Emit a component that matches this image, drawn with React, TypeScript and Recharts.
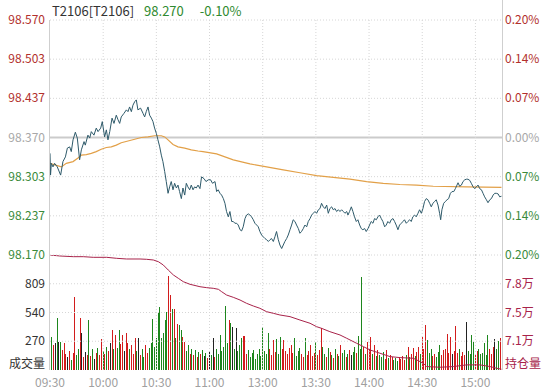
import React from 'react';
import {
  LineChart,
  Line,
  XAxis,
  YAxis,
  ReferenceLine,
  ComposedChart,
  Bar,
  Cell,
} from 'recharts';

const FONT = '"Noto Sans CJK SC", "Noto Sans", sans-serif';

// ---------- data ----------
const instrument = 'T2106[T2106]';
const lastPrice = '98.270';
const lastChange = '-0.10%';
const prevClose = 98.37;

const timeTicks = [0, 30, 60, 90, 120, 150, 180, 210, 240];
const timeLabels = ['09:30', '10:00', '10:30', '11:00', '13:00', '13:30', '14:00', '14:30', '15:00'];

const priceTicks = [98.17, 98.236667, 98.303333, 98.37, 98.436667, 98.503333, 98.57];
const volumeTicks = [269.75, 539.5, 809.25];
const oiTicks = [71000, 74600, 78200];

// [minute offset from 09:30 (trading minutes), price]
const priceTrack: [number, number][] = [
  [0, 98.343], [0.3, 98.306], [0.75, 98.326], [1.7, 98.32], [2.6, 98.326], [4.1, 98.32], [6.0, 98.306],
  [7.3, 98.329], [8.7, 98.337], [9.8, 98.352], [11.1, 98.354], [12.0, 98.346], [13.0, 98.366], [14.3, 98.379],
  [15.4, 98.369], [16.7, 98.332], [17.7, 98.349], [19.2, 98.363], [19.9, 98.357], [21.4, 98.374], [22.4, 98.369],
  [23.3, 98.38], [24.8, 98.374], [26.1, 98.386], [27.1, 98.38], [28.6, 98.386], [29.5, 98.397], [30.8, 98.371],
  [31.8, 98.383], [32.7, 98.366], [33.7, 98.38], [35.0, 98.403], [36.1, 98.394], [37.4, 98.408], [38.4, 98.4],
  [39.3, 98.394], [40.2, 98.405], [41.7, 98.411], [43.1, 98.417], [44.0, 98.414], [44.9, 98.422], [45.9, 98.414],
  [46.8, 98.425], [47.8, 98.431], [48.7, 98.434], [49.6, 98.417], [51.1, 98.42], [52.5, 98.411], [53.4, 98.405],
  [54.3, 98.414], [55.3, 98.422], [56.2, 98.408], [57.2, 98.403], [58.1, 98.397], [59.0, 98.386], [60.0, 98.377],
  [60.9, 98.366], [61.9, 98.354], [62.8, 98.34], [63.7, 98.329], [64.7, 98.312], [65.6, 98.295], [66.6, 98.275],
  [67.5, 98.286], [68.4, 98.295], [69.4, 98.281], [70.3, 98.292], [71.3, 98.284], [72.2, 98.289], [73.1, 98.278],
  [74.1, 98.266], [75.0, 98.284], [76.0, 98.272], [76.9, 98.292], [77.8, 98.286], [78.8, 98.281], [79.7, 98.289],
  [80.7, 98.281], [81.6, 98.286], [82.5, 98.284], [83.5, 98.289], [84.6, 98.283], [85.5, 98.303], [86.9, 98.3],
  [88.0, 98.295], [89.3, 98.298], [90.6, 98.298], [91.7, 98.292], [93.1, 98.295], [94.0, 98.278], [94.9, 98.281],
  [95.9, 98.275], [96.8, 98.272], [97.8, 98.266], [98.7, 98.258], [99.6, 98.244], [100.6, 98.235], [101.5, 98.244],
  [102.5, 98.227], [103.4, 98.227], [104.3, 98.224], [105.3, 98.224], [106.2, 98.221], [107.2, 98.213], [108.1, 98.211],
  [109.0, 98.218], [110.0, 98.232], [110.9, 98.238], [111.9, 98.24], [112.8, 98.238], [113.7, 98.235], [114.7, 98.23],
  [115.6, 98.224], [116.6, 98.221], [117.5, 98.218], [118.4, 98.21], [119.4, 98.204], [120.3, 98.201], [121.3, 98.198],
  [122.2, 98.196], [123.2, 98.193], [124.1, 98.196], [125.0, 98.198], [126.0, 98.193], [126.9, 98.201], [127.8, 98.21],
  [128.8, 98.196], [129.7, 98.187], [130.7, 98.181], [131.6, 98.187], [132.5, 98.193], [133.5, 98.198], [134.4, 98.204],
  [135.4, 98.213], [136.3, 98.221], [137.2, 98.23], [138.2, 98.227], [139.1, 98.221], [140.1, 98.215], [141.0, 98.207],
  [141.9, 98.21], [142.9, 98.215], [143.8, 98.221], [144.8, 98.218], [145.7, 98.227], [146.7, 98.232], [147.6, 98.238],
  [148.5, 98.241], [149.5, 98.244], [150.4, 98.241], [151.4, 98.247], [152.3, 98.249], [153.2, 98.258], [154.2, 98.252],
  [155.1, 98.249], [156.1, 98.255], [157.0, 98.241], [157.9, 98.249], [158.9, 98.252], [159.8, 98.247], [160.8, 98.249],
  [161.7, 98.244], [162.7, 98.247], [163.6, 98.244], [164.5, 98.247], [165.5, 98.244], [166.4, 98.241], [167.4, 98.244],
  [168.1, 98.238], [169.0, 98.244], [170.0, 98.252], [170.9, 98.244], [171.8, 98.235], [172.8, 98.227], [173.7, 98.23],
  [174.7, 98.221], [175.6, 98.215], [176.5, 98.213], [177.5, 98.215], [178.4, 98.21], [179.4, 98.215], [180.3, 98.221],
  [181.2, 98.227], [182.2, 98.224], [183.1, 98.232], [184.1, 98.23], [185.0, 98.235], [185.9, 98.238], [186.9, 98.232],
  [187.8, 98.227], [188.8, 98.218], [189.7, 98.221], [190.6, 98.227], [191.6, 98.224], [192.5, 98.23], [193.5, 98.232],
  [194.4, 98.227], [195.3, 98.221], [196.3, 98.213], [197.2, 98.221], [198.2, 98.224], [199.1, 98.227], [200.0, 98.23],
  [201.0, 98.224], [201.9, 98.227], [202.9, 98.23], [203.8, 98.227], [204.7, 98.235], [205.7, 98.238], [206.6, 98.235],
  [207.6, 98.241], [208.5, 98.247], [209.5, 98.241], [210.4, 98.249], [211.3, 98.261], [212.3, 98.266], [213.2, 98.264],
  [214.2, 98.258], [215.1, 98.252], [216.0, 98.258], [217.0, 98.261], [217.9, 98.264], [218.9, 98.255], [219.8, 98.241],
  [220.4, 98.23], [221.1, 98.247], [222.1, 98.258], [223.0, 98.261], [224.0, 98.264], [224.9, 98.266], [225.9, 98.275],
  [226.8, 98.278], [227.8, 98.278], [228.7, 98.283], [229.6, 98.289], [230.2, 98.293], [231.1, 98.287], [232.1, 98.289],
  [233.0, 98.295], [234.0, 98.298], [234.9, 98.299], [235.8, 98.299], [236.8, 98.297], [237.7, 98.292], [238.7, 98.286],
  [239.6, 98.283], [240.5, 98.286], [241.5, 98.289], [242.4, 98.283], [243.4, 98.281], [244.3, 98.275], [245.2, 98.269],
  [246.2, 98.264], [247.1, 98.259], [248.1, 98.264], [249.0, 98.266], [250.0, 98.272], [250.9, 98.275], [251.8, 98.275],
  [252.8, 98.274], [253.7, 98.269], [254.7, 98.27],
];

const avgTrack: [number, number][] = [
  [0, 98.326], [6.4, 98.32], [9.2, 98.326], [13, 98.329], [15.8, 98.335], [17.7, 98.34], [20.5, 98.341],
  [23.3, 98.343], [26.1, 98.346], [28.9, 98.35], [31.8, 98.353], [34.6, 98.354], [37.4, 98.357], [40.2, 98.361],
  [44, 98.364], [47.8, 98.367], [51.5, 98.37], [55.3, 98.371], [59, 98.373], [62.8, 98.373], [64.7, 98.371],
  [66.6, 98.366], [69.4, 98.358], [72.2, 98.354], [76, 98.352], [79.7, 98.349], [83.5, 98.347], [86.3, 98.346],
  [94, 98.342], [103.4, 98.332], [112.8, 98.325], [122.2, 98.32], [131.6, 98.315], [141, 98.31], [150.4, 98.305],
  [159.8, 98.302], [169.2, 98.299], [178.6, 98.295], [188, 98.292], [197.4, 98.29], [206.8, 98.289], [216.2, 98.287],
  [235, 98.286], [254.7, 98.285],
];

// open interest (contracts)
const oiTrack: [number, number][] = [
  [0, 81800], [5.6, 81675], [13.2, 81590], [18.8, 81590], [24.4, 81510], [32, 81510], [37.6, 81385], [43.2, 81300],
  [50.8, 81300], [54.5, 81260], [58.3, 81175], [61.1, 80965], [63.9, 80550], [66.7, 79920], [69.6, 79300],
  [72.4, 78880], [75.2, 78460], [79, 78130], [84.6, 77830], [88.4, 77710], [92.1, 77630], [95, 77505], [96.8, 77210],
  [99.6, 76790], [103.4, 76500], [107.2, 76165], [110.9, 75750], [114.7, 75415], [118.4, 75130], [122.2, 74700],
  [126, 74500], [129.7, 74290], [135.4, 74080], [141, 73660], [146.7, 73250], [150.4, 72825], [153.2, 72620],
  [157.9, 72200], [163.6, 71785], [167.4, 71370], [173, 70745], [176.8, 70330], [180.5, 69910], [186.2, 69495],
  [191.8, 69080], [197.5, 68950], [205, 68870], [210.6, 68240], [212.5, 67830], [220, 67745], [227.5, 67830],
  [235, 68040], [242.6, 68040], [248.2, 67830], [252, 67620], [254.7, 67500],
];

// volume per minute
const volumes: number[] = [
  1075, 312, 235, 253, 485, 266, 266, 188, 256, 150, 120, 180, 95, 160, 688, 140, 200, 485, 347, 120,
  170, 140, 469, 130, 200, 100, 160, 210, 140, 291, 180, 150, 220, 180, 250, 375, 200, 328, 210, 375,
  240, 328, 180, 347, 250, 200, 230, 150, 297, 180, 297, 140, 200, 120, 230, 160, 210, 250, 478, 220,
  300, 547, 594, 300, 350, 469, 547, 882, 704, 569, 569, 300, 432, 422, 375, 307, 266, 180, 230, 150,
  200, 140, 188, 120, 170, 150, 188, 130, 160, 110, 180, 140, 297, 120, 200, 150, 328, 180, 220, 600,
  250, 469, 445, 407, 200, 391, 180, 230, 297, 319, 319, 150, 188, 120, 160, 188, 100, 150, 200, 130,
  401, 180, 150, 347, 200, 140, 280, 170, 290, 150, 307, 200, 285, 180, 150, 203, 235, 160, 297, 130,
  180, 203, 150, 120, 297, 140, 180, 235, 130, 160, 260, 140, 190, 391, 219, 150, 120, 203, 170, 140,
  110, 194, 150, 130, 235, 160, 188, 120, 150, 188, 140, 170, 219, 160, 319, 200, 876, 220, 150, 266,
  200, 313, 150, 235, 130, 188, 140, 120, 172, 100, 188, 110, 140, 125, 90, 110, 80, 120, 100, 130,
  90, 140, 219, 120, 150, 203, 130, 170, 219, 150, 307, 200, 422, 282, 160, 194, 130, 150, 120, 170,
  235, 140, 190, 200, 338, 160, 307, 150, 180, 413, 160, 194, 130, 170, 140, 450, 180, 150, 328, 266,
  140, 180, 194, 150, 160, 256, 140, 328, 194, 150, 219, 288, 200, 275, 300,
];

// ---------- derived tables ----------
const priceData = priceTrack.map(([m, p]) => ({ m, p }));
const avgData = avgTrack.map(([m, p]) => ({ m, p }));
const oiData = oiTrack.map(([m, oi]) => ({ m, oi }));
const volData = volumes.map((v, i) => ({ m: i, v }));

const closeBefore = (t: number, fallback: number) => {
  let c = fallback;
  for (const [m, p] of priceTrack) {
    if (m < t) c = p;
    else break;
  }
  return c;
};

const UP = '#d21c1c';
const DOWN = '#1d861d';
const FLAT = '#222222';
const barColors = volumes.map((_, i) => {
  const cur = closeBefore(i + 1, prevClose);
  const prev = i === 0 ? prevClose : closeBefore(i, prevClose);
  if (cur > prev + 1e-9) return UP;
  if (cur < prev - 1e-9) return DOWN;
  return FLAT;
});

// ---------- styling helpers ----------
const RED_LABEL = '#b2302c';
const GREEN_LABEL = '#3a8a3a';
const GRAY_LABEL = '#a8a8a8';
const OI_COLOR = '#a8234a';
const GRID = '#d6d6d6';
const BORDER = '#cfcfcf';

const priceColor = (v: number) =>
  v > prevClose + 1e-6 ? RED_LABEL : v < prevClose - 1e-6 ? GREEN_LABEL : GRAY_LABEL;

const PriceTick = (props: any) => {
  const { y, payload } = props;
  const v = payload.value as number;
  return (
    <text x={45} y={y} dy={4} textAnchor="end" fontSize={12} fontFamily={FONT} fill={priceColor(v)}>
      {v.toFixed(3)}
    </text>
  );
};

const PctTick = (props: any) => {
  const { y, payload } = props;
  const v = payload.value as number;
  const pct = Math.abs(((v - prevClose) / prevClose) * 100).toFixed(2) + '%';
  return (
    <text x={505} y={y} dy={4} textAnchor="start" fontSize={12} fontFamily={FONT} fill={priceColor(v)}>
      {pct}
    </text>
  );
};

const VolTick = (props: any) => {
  const { y, payload } = props;
  return (
    <text x={45} y={y} dy={4} textAnchor="end" fontSize={12} fontFamily={FONT} fill="#333">
      {Math.round(payload.value)}
    </text>
  );
};

const OiTick = (props: any) => {
  const { y, payload } = props;
  return (
    <text x={505} y={y} dy={4} textAnchor="start" fontSize={12} fontFamily={FONT} fill={OI_COLOR}>
      {(payload.value / 10000).toFixed(1) + '万'}
    </text>
  );
};

const TimeTick = (props: any) => {
  const { x, payload } = props;
  const idx = timeTicks.indexOf(payload.value);
  return (
    <text x={x} y={128} dy={4} textAnchor="middle" fontSize={12} fontFamily={FONT} fill="#a0a0a0">
      {timeLabels[idx]}
    </text>
  );
};

const CrispBar = (props: any) => {
  const { x, y, width, height, fill } = props;
  if (!height || height <= 0) return null;
  const cx = x + width / 2;
  return (
    <rect
      x={Math.round(cx - 0.5)}
      y={y}
      width={1}
      height={height}
      fill={fill}
      shapeRendering="crispEdges"
    />
  );
};

export default function App() {
  return (
    <div
      style={{
        position: 'fixed',
        left: 0,
        top: 0,
        width: 549,
        height: 391,
        background: '#fff',
        overflow: 'hidden',
        fontFamily: FONT,
      }}
    >
      {/* panel borders (behind the charts) */}
      <div style={{ position: 'absolute', left: 49, top: 20, width: 1, height: 350, background: BORDER }} />
      <div style={{ position: 'absolute', left: 502, top: 0, width: 1, height: 370, background: BORDER }} />

      <div style={{ position: 'absolute', left: 0, top: 255 }}>
        <ComposedChart width={549} height={136} data={volData} margin={{ top: 0, right: 0, bottom: 0, left: 0 }}>
          <XAxis
            dataKey="m"
            type="number"
            domain={[0, 255]}
            ticks={timeTicks}
            interval={0}
            height={21}
            axisLine={false}
            tickLine={false}
            tick={(p: any) => <TimeTick {...p} />}
            allowDataOverflow
          />
          <YAxis
            yAxisId="v"
            domain={[0, 1079]}
            ticks={volumeTicks}
            interval={0}
            width={50}
            axisLine={false}
            tickLine={false}
            tick={(p: any) => <VolTick {...p} />}
            allowDataOverflow
          />
          <YAxis
            yAxisId="oi"
            orientation="right"
            domain={[67400, 81800]}
            ticks={oiTicks}
            interval={0}
            width={47}
            axisLine={false}
            tickLine={false}
            tick={(p: any) => <OiTick {...p} />}
            allowDataOverflow
          />
          {volumeTicks.map((t) => (
            <ReferenceLine key={'vh' + t} yAxisId="v" y={t} stroke={GRID} strokeDasharray="1 2" />
          ))}
          {timeTicks.slice(1).map((t) => (
            <ReferenceLine key={'vv' + t} yAxisId="v" x={t} stroke={GRID} strokeDasharray="1 2" />
          ))}
          <Bar yAxisId="v" dataKey="v" barSize={1} isAnimationActive={false} shape={(p: any) => <CrispBar {...p} />}>
            {volData.map((d, i) => (
              <Cell key={i} fill={barColors[i]} />
            ))}
          </Bar>
          <Line
            yAxisId="oi"
            data={oiData}
            dataKey="oi"
            stroke={OI_COLOR}
            strokeWidth={1}
            dot={false}
            activeDot={false}
            isAnimationActive={false}
          />
        </ComposedChart>
      </div>

      <div style={{ position: 'absolute', left: 0, top: 0 }}>
        <LineChart width={549} height={270} data={priceData} margin={{ top: 20, right: 0, bottom: 15, left: 0 }}>
          <XAxis dataKey="m" type="number" domain={[0, 255]} hide allowDataOverflow />
          <YAxis
            yAxisId="l"
            domain={[98.17, 98.57]}
            ticks={priceTicks}
            interval={0}
            width={50}
            axisLine={false}
            tickLine={false}
            tick={(p: any) => <PriceTick {...p} />}
            allowDataOverflow
          />
          <YAxis
            yAxisId="r"
            orientation="right"
            domain={[98.17, 98.57]}
            ticks={priceTicks}
            interval={0}
            width={47}
            axisLine={false}
            tickLine={false}
            tick={(p: any) => <PctTick {...p} />}
            allowDataOverflow
          />
          {priceTicks
            .filter((t) => Math.abs(t - prevClose) > 1e-6)
            .map((t) => (
              <ReferenceLine key={'ph' + t} yAxisId="l" y={t} stroke={GRID} strokeDasharray="1 2" />
            ))}
          <ReferenceLine yAxisId="l" y={prevClose} stroke="#cbcbcb" strokeWidth={2} />
          {timeTicks.slice(1).map((t) => (
            <ReferenceLine key={'pv' + t} yAxisId="l" x={t} stroke={GRID} strokeDasharray="1 2" />
          ))}
          <Line
            yAxisId="l"
            data={avgData}
            dataKey="p"
            stroke="#e2a048"
            strokeWidth={1.2}
            dot={false}
            activeDot={false}
            isAnimationActive={false}
          />
          <Line
            yAxisId="l"
            dataKey="p"
            stroke="#2e5a6a"
            strokeWidth={1}
            dot={false}
            activeDot={false}
            isAnimationActive={false}
          />
        </LineChart>
      </div>

      <div
        style={{
          position: 'absolute',
          left: 52,
          top: 2,
          fontSize: 13,
          lineHeight: '18px',
          whiteSpace: 'pre',
          color: '#333',
        }}
      >
        <span>{instrument}</span>
        <span style={{ color: '#2f8a2f', marginLeft: 10 }}>{lastPrice}</span>
        <span style={{ color: '#2f8a2f', marginLeft: 16 }}>{lastChange}</span>
      </div>

      <div
        style={{
          position: 'absolute',
          right: 549 - 45,
          top: 354,
          fontSize: 12,
          lineHeight: '18px',
          color: '#333',
          whiteSpace: 'nowrap',
        }}
      >
        成交量
      </div>
      <div
        style={{
          position: 'absolute',
          left: 505,
          top: 354,
          fontSize: 12,
          lineHeight: '18px',
          color: OI_COLOR,
          whiteSpace: 'nowrap',
        }}
      >
        持仓量
      </div>
    </div>
  );
}
